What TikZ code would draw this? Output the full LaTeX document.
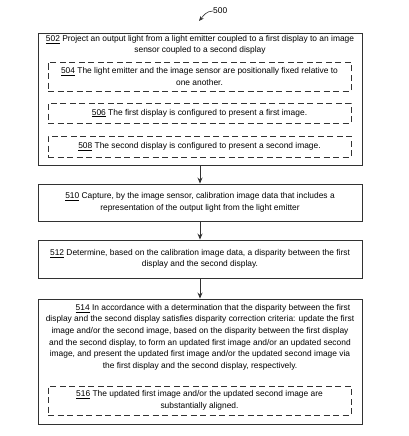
\documentclass[tikz,border=0pt]{standalone}
\usepackage{fontspec}
\setmainfont{Liberation Sans}
\usetikzlibrary{arrows.meta,positioning}
\definecolor{boxline}{RGB}{50,50,50}
\newcommand{\stepno}[1]{\underline{#1}}
\tikzset{
  mainbox/.style={draw=boxline, line width=0.9pt, minimum width=324pt, inner sep=0pt},
  dashbox/.style={draw=boxline, line width=0.9pt, dash pattern=on 6pt off 3.5pt, minimum width=303pt, inner sep=0pt},
  steptext/.style={align=center, inner sep=0pt, font=\fontsize{8.4}{11.6}\selectfont},
  flow/.style={draw=boxline, line width=0.9pt, -{Stealth[length=6pt,width=5pt]}}
}
\begin{document}
\begin{tikzpicture}[x=1pt,y=-1pt]
\useasboundingbox (0,0) rectangle (408,436);
\node (lbl500) [steptext, anchor=west] at (213,11) {500};
\coordinate (tip500) at (199,21);
\draw[boxline, line width=0.6pt, -{Stealth[length=5pt,width=4pt]}] (lbl500.west) to[out=180,in=50] (tip500);
\node (s502) [mainbox, minimum height=132pt] at (200,99) {};
\node (t502) [steptext, below=2.5pt of s502.north] {\stepno{502} Project an output light from a light emitter coupled to a first display to an image\\ sensor coupled to a second display};
\node (s504) [dashbox, minimum height=29pt] at (199.5,76.5) {};
\node (t504) [steptext] at (s504) {\stepno{504} The light emitter and the image sensor are positionally fixed relative to\\ one another.};
\node (s506) [dashbox, minimum height=20pt] at (199.5,113) {};
\node (t506) [steptext] at (s506) {\stepno{506} The first display is configured to present a first image.};
\node (s508) [dashbox, minimum height=21pt] at (199.5,146.5) {};
\node (t508) [steptext] at (s508) {\stepno{508} The second display is configured to present a second image.};
\node (s510) [mainbox, minimum height=37pt] at (200,202.5) {};
\node (t510) [steptext] at (s510) {\stepno{510} Capture, by the image sensor, calibration image data that includes a\\ representation of the output light from the light emitter};
\node (s512) [mainbox, minimum height=38pt] at (200,259) {};
\node (t512) [steptext] at (s512) {\stepno{512} Determine, based on the calibration image data, a disparity between the first\\ display and the second display.};
\node (s514) [mainbox, minimum height=125pt] at (200,361.5) {};
\node (t514) [steptext, below=5.5pt of s514.north] {\hspace*{26pt}\stepno{514} In accordance with a determination that the disparity between the first\\
display and the second display satisfies disparity correction criteria: update the first\\
image and/or the second image, based on the disparity between the first display\\
and the second display, to form an updated first image and/or an updated second\\
image, and present the updated first image and/or the updated second image via\\
the first display and the second display, respectively.};
\node (s516) [dashbox, minimum height=29pt] at (199.5,400.5) {};
\node (t516) [steptext] at (s516) {\stepno{516} The updated first image and/or the updated second image are\\ substantially aligned.};
\draw[flow] (s502) -- (s510);
\draw[flow] (s510) -- (s512);
\draw[flow] (s512) -- (s514);
\end{tikzpicture}
\end{document}
